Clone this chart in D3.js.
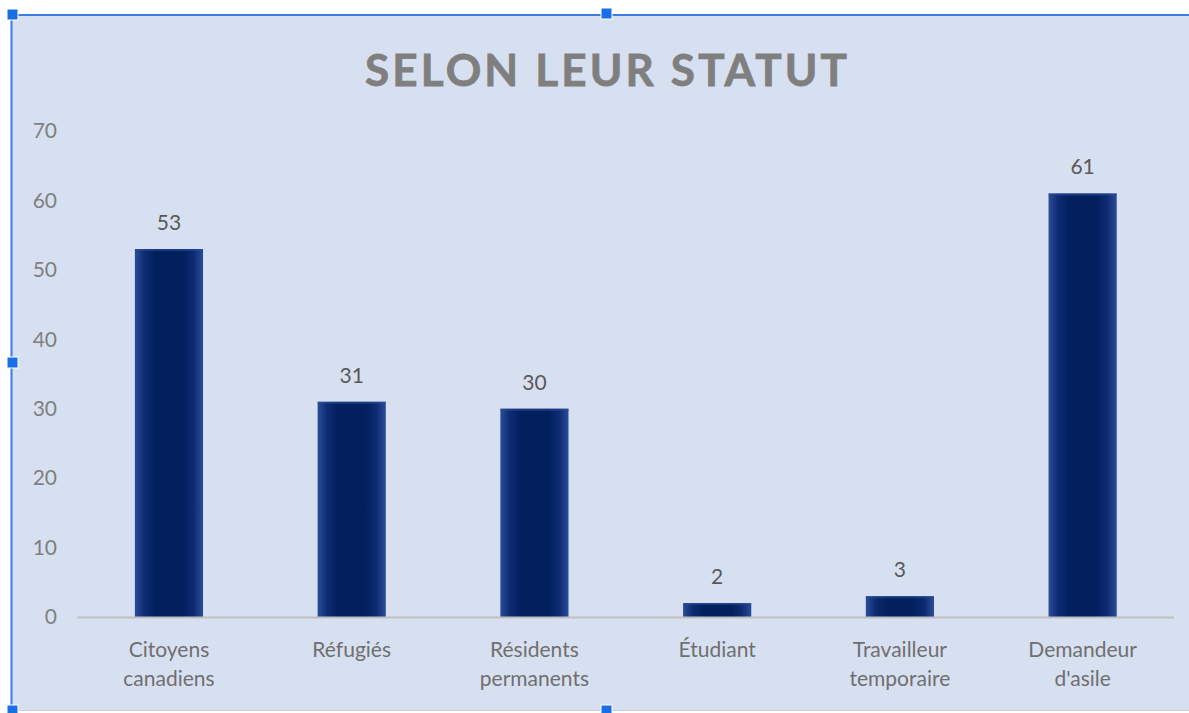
<!DOCTYPE html>
<html>
<head>
<meta charset="utf-8">
<script src="https://cdn.jsdelivr.net/npm/d3@7"></script>
<style>
  html, body { margin: 0; padding: 0; background: #ffffff; }
  svg { display: block; }
</style>
</head>
<body>
<svg id="chart" width="1189" height="713"></svg>
<script>
const title = "SELON LEUR STATUT";
const categories = [
  ["Citoyens", "canadiens"],
  ["Réfugiés"],
  ["Résidents", "permanents"],
  ["Étudiant"],
  ["Travailleur", "temporaire"],
  ["Demandeur", "d'asile"]
];
const values = [53, 31, 30, 2, 3, 61];
const yTicks = [0, 10, 20, 30, 40, 50, 60, 70];

const W = 1189, H = 713;
const svg = d3.select("#chart");
const font = "Lato, 'Open Sans', sans-serif";

// panel background
svg.append("rect").attr("x", 11).attr("y", 15).attr("width", W - 11).attr("height", 696)
  .attr("fill", "#d7e0f0");
svg.append("line").attr("x1", 11).attr("x2", W).attr("y1", 710.5).attr("y2", 710.5)
  .attr("stroke", "#c8ccd4").attr("stroke-width", 1);

// gradients for bars (soft edges)
const defs = svg.append("defs");
const g = defs.append("linearGradient").attr("id", "barGrad").attr("x1", "0").attr("x2", "1").attr("y1", "0").attr("y2", "0");
g.append("stop").attr("offset", "0%").attr("stop-color", "#2a4c98");
g.append("stop").attr("offset", "14%").attr("stop-color", "#0d2b72");
g.append("stop").attr("offset", "30%").attr("stop-color", "#021f5e");
g.append("stop").attr("offset", "70%").attr("stop-color", "#021f5e");
g.append("stop").attr("offset", "86%").attr("stop-color", "#0d2b72");
g.append("stop").attr("offset", "100%").attr("stop-color", "#2a4c98");

const margin = { left: 77.6, right: W - 1174, top: 131, bottom: H - 617 };
const x = d3.scaleBand().domain(d3.range(categories.length))
  .range([margin.left, W - margin.right]).paddingInner(0.627).paddingOuter(0.3135);
const y = d3.scaleLinear().domain([0, 70]).range([617, 131]);

// title
svg.append("text").attr("x", 606).attr("y", 86).attr("text-anchor", "middle")
  .attr("font-family", font).attr("font-weight", "bold").attr("font-size", 44)
  .attr("fill", "#7f7f7f").attr("stroke", "#7f7f7f").attr("stroke-width", 0.8)
  .attr("textLength", 482).attr("lengthAdjust", "spacing").text(title);

// y axis
const yAxis = d3.axisLeft(y).tickValues(yTicks).tickSize(0).tickPadding(0);
const ya = svg.append("g").attr("transform", "translate(57,0)").call(yAxis);
ya.select(".domain").remove();
ya.selectAll("text").attr("font-family", font).attr("font-size", 21).attr("fill", "#7f7f7f");

// bars
svg.selectAll("rect.bar").data(values).enter().append("rect").attr("class", "bar")
  .attr("x", (d, i) => x(i)).attr("width", x.bandwidth())
  .attr("y", d => y(d)).attr("height", d => y(0) - y(d))
  .attr("fill", "url(#barGrad)");
// soft top edge
svg.selectAll("rect.barTop").data(values).enter().append("rect").attr("class", "barTop")
  .attr("x", (d, i) => x(i)).attr("width", x.bandwidth())
  .attr("y", d => y(d)).attr("height", 2)
  .attr("fill", "#2a4c98").attr("opacity", 0.6);

// baseline
svg.append("line").attr("x1", margin.left).attr("x2", W - margin.right)
  .attr("y1", y(0) + 0.5).attr("y2", y(0) + 0.5).attr("stroke", "#bfbfbf").attr("stroke-width", 2);

// data labels
svg.selectAll("text.val").data(values).enter().append("text").attr("class", "val")
  .attr("x", (d, i) => x(i) + x.bandwidth() / 2).attr("y", d => y(d) - 19)
  .attr("text-anchor", "middle").attr("font-family", font).attr("font-size", 21)
  .attr("fill", "#595959").text(d => d);

// category labels
const xa = svg.append("g").attr("transform", `translate(0,${y(0)})`)
  .call(d3.axisBottom(x).tickSize(0).tickFormat(() => ""));
xa.select(".domain").remove();
xa.selectAll(".tick").each(function(i) {
  const txt = d3.select(this).select("text").attr("y", 0).attr("dy", null)
    .attr("font-family", font).attr("font-size", 21).attr("fill", "#6f6f6f");
  categories[i].forEach((line, k) => {
    txt.append("tspan").attr("x", 0).attr("y", 40 + k * 29).text(line);
  });
});

// selection frame
svg.append("line").attr("x1", 11).attr("x2", W).attr("y1", 15).attr("y2", 15).attr("stroke", "#3b7de0").attr("stroke-width", 2);
svg.append("line").attr("x1", 11.5).attr("x2", 11.5).attr("y1", 15).attr("y2", H).attr("stroke", "#3b7de0").attr("stroke-width", 2);
const handles = [[12, 15], [606, 14], [12, 363], [606, 711], [12, 711]];
svg.selectAll("rect.h").data(handles).enter().append("rect").attr("class", "h")
  .attr("x", d => d[0] - 5).attr("y", d => d[1] - 6).attr("width", 11).attr("height", 11)
  .attr("fill", "#1a6ee6").attr("stroke", "#ffffff").attr("stroke-width", 1);
</script>
</body>
</html>
